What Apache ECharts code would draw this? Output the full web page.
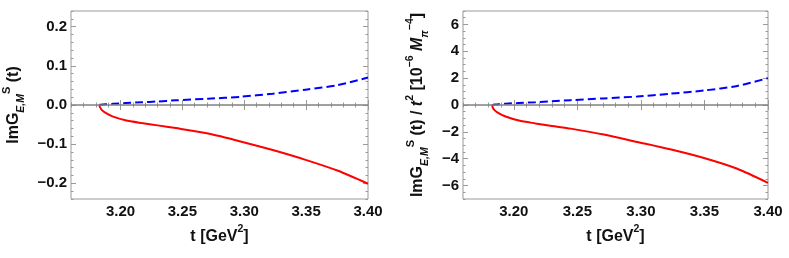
<!DOCTYPE html>
<html>
<head>
<meta charset="utf-8">
<script src="https://cdn.jsdelivr.net/npm/echarts@6/dist/echarts.min.js"></script>
<style>
html,body{margin:0;padding:0;background:#fff;}
#c{width:789px;height:258px;}
</style>
</head>
<body>
<div id="c"></div>
<script>
// ---- data ----
const tValues   = [3.1828, 3.1835, 3.185, 3.188, 3.1935, 3.204, 3.217, 3.230, 3.2447, 3.2708, 3.297, 3.323, 3.3496, 3.3758, 3.40];
const leftRed   = [0, -0.006, -0.013, -0.020, -0.029, -0.039, -0.046, -0.052, -0.059, -0.073, -0.093, -0.115, -0.140, -0.168, -0.201];
const leftBlue  = [0, 0.0005, 0.001, 0.002, 0.003, 0.005, 0.007, 0.009, 0.012, 0.016, 0.021, 0.029, 0.039, 0.051, 0.070];
const rightRed  = [0, -0.20, -0.40, -0.60, -0.86, -1.16, -1.37, -1.56, -1.76, -2.20, -2.75, -3.30, -3.95, -4.75, -5.80];
const rightBlue = [0, 0.01, 0.03, 0.06, 0.10, 0.15, 0.21, 0.28, 0.36, 0.49, 0.63, 0.84, 1.08, 1.42, 2.00];

const xTicks      = [3.20, 3.25, 3.30, 3.35, 3.40];
const leftYTicks  = [-0.2, -0.1, 0.0, 0.1, 0.2];
const rightYTicks = [-6, -4, -2, 0, 2, 4, 6];

const xRange = [3.16, 3.40];
const leftYRange = [-0.24, 0.24];
const rightYRange = [-7, 7];

// ---- helpers ----
function steps(a, b, s) { const out = []; const n = Math.round((b - a) / s); for (let i = 0; i <= n; i++) out.push(+(a + i * s).toFixed(6)); return out; }
const xMinor = steps(3.16, 3.40, 0.01);
const leftYMinor = steps(-0.24, 0.24, 0.02);
const rightYMinor = steps(-7, 7, 0.5);

const frameColor = '#9a9a9a';
const FONT = 'Liberation Sans, Arial, sans-serif';
const minus = v => String(v).replace('-', '\u2212');

function pair(v) { return v.map((y, i) => [tValues[i], y]); }

const grids = [
  { left: 63, right: 421, top: 11, bottom: 59, show: true, borderColor: frameColor, borderWidth: 1, backgroundColor: '#fff' },
  { left: 463, right: 21, top: 11, bottom: 59, show: true, borderColor: frameColor, borderWidth: 1, backgroundColor: '#fff' }
];

const richBase = {
  m:   { fontFamily: FONT, fontSize: 16, fontWeight: 'bold', color: '#111', lineHeight: 26, verticalAlign: 'middle' },
  it:  { fontFamily: FONT, fontSize: 16, fontWeight: 'bold', fontStyle: 'italic', color: '#111', lineHeight: 26, verticalAlign: 'middle' },
  sub: { fontFamily: FONT, fontSize: 10.5, fontWeight: 'bold', fontStyle: 'italic', color: '#111', lineHeight: 12, verticalAlign: 'bottom' },
  sup: { fontFamily: FONT, fontSize: 11, fontWeight: 'bold', color: '#111', lineHeight: 12, verticalAlign: 'top' },
  sup2:{ fontFamily: FONT, fontSize: 10.5, fontWeight: 'bold', color: '#111', lineHeight: 12, verticalAlign: 'top' }
};

const xName = '{m|t [GeV}{sup2|2}{m|]}';

const xAxes = [], yAxes = [];
[0, 1].forEach(g => {
  xAxes.push({
    gridIndex: g, type: 'value', min: xRange[0], max: xRange[1], position: 'bottom',
    axisLine: { show: false }, splitLine: { show: false },
    axisTick: { show: true, inside: true, length: 5, customValues: xTicks, lineStyle: { color: frameColor } },
    axisLabel: { customValues: xTicks, formatter: v => v.toFixed(2), fontFamily: FONT, fontSize: 15, fontWeight: 'bold', color: '#111', margin: 5 },
    name: xName, nameLocation: 'middle', nameGap: 20,
    nameTextStyle: { fontFamily: FONT, fontSize: 16, fontWeight: 'bold', color: '#111', rich: richBase }
  });
  xAxes.push({
    gridIndex: g, type: 'value', min: xRange[0], max: xRange[1], position: 'bottom',
    axisLine: { show: false }, splitLine: { show: false }, axisLabel: { show: false },
    axisTick: { show: true, inside: true, length: 2.5, customValues: xMinor, lineStyle: { color: frameColor } }
  });
  xAxes.push({
    gridIndex: g, type: 'value', min: xRange[0], max: xRange[1], position: 'top',
    axisLine: { show: false }, splitLine: { show: false }, axisLabel: { show: false },
    axisTick: { show: true, inside: true, length: 5, customValues: xTicks, lineStyle: { color: frameColor } }
  });
  xAxes.push({
    gridIndex: g, type: 'value', min: xRange[0], max: xRange[1], position: 'top',
    axisLine: { show: false }, splitLine: { show: false }, axisLabel: { show: false },
    axisTick: { show: true, inside: true, length: 2.5, customValues: xMinor, lineStyle: { color: frameColor } }
  });

  const yr = g === 0 ? leftYRange : rightYRange;
  const yt = g === 0 ? leftYTicks : rightYTicks;
  const ym = g === 0 ? leftYMinor : rightYMinor;
  const fmt = g === 0 ? (v => minus(v.toFixed(1))) : (v => minus(String(v)));
  const yName = g === 0
    ? '{m|ImG}{sub|E,M}{sup|S}{m| (t)}'
    : '{m|ImG}{sub|E,M}{sup|S}{m| (t) / }{it|t}{sup2|2}{m| [10}{sup2|\u22126}{m| }{it|M}{sub|\u03c0}{sup2|\u22124}{m|]}';
  yAxes.push({
    gridIndex: g, type: 'value', min: yr[0], max: yr[1], position: 'left',
    axisLine: { show: false }, splitLine: { show: false },
    axisTick: { show: true, inside: true, length: 5, customValues: yt, lineStyle: { color: frameColor } },
    axisLabel: { customValues: yt, formatter: fmt, fontFamily: FONT, fontSize: 15, fontWeight: 'bold', color: '#111', margin: 4 },
    name: yName, nameLocation: 'middle', nameRotate: 90, nameGap: g === 0 ? 44 : 32,
    nameTextStyle: { fontFamily: FONT, fontSize: 16, fontWeight: 'bold', color: '#111', rich: richBase }
  });
  yAxes.push({
    gridIndex: g, type: 'value', min: yr[0], max: yr[1], position: 'left',
    axisLine: { show: false }, splitLine: { show: false }, axisLabel: { show: false },
    axisTick: { show: true, inside: true, length: 2.5, customValues: ym, lineStyle: { color: frameColor } }
  });
  yAxes.push({
    gridIndex: g, type: 'value', min: yr[0], max: yr[1], position: 'right',
    axisLine: { show: false }, splitLine: { show: false }, axisLabel: { show: false },
    axisTick: { show: true, inside: true, length: 5, customValues: yt, lineStyle: { color: frameColor } }
  });
  yAxes.push({
    gridIndex: g, type: 'value', min: yr[0], max: yr[1], position: 'right',
    axisLine: { show: false }, splitLine: { show: false }, axisLabel: { show: false },
    axisTick: { show: true, inside: true, length: 2.5, customValues: ym, lineStyle: { color: frameColor } }
  });
});

function zeroLine() {
  return { silent: true, symbol: 'none', label: { show: false },
    lineStyle: { color: '#808080', width: 1.5, type: 'solid' }, data: [{ yAxis: 0 }] };
}

const series = [
  { type: 'line', xAxisIndex: 0, yAxisIndex: 0, data: pair(leftBlue), showSymbol: false, smooth: 0.25,
    lineStyle: { color: '#0000ff', width: 2, type: [8, 4] }, markLine: zeroLine(), z: 3 },
  { type: 'line', xAxisIndex: 0, yAxisIndex: 0, data: pair(leftRed), showSymbol: false, smooth: 0.25,
    lineStyle: { color: '#ff0000', width: 2 }, z: 3 },
  { type: 'line', xAxisIndex: 4, yAxisIndex: 4, data: pair(rightBlue), showSymbol: false, smooth: 0.25,
    lineStyle: { color: '#0000ff', width: 2, type: [8, 4] }, markLine: zeroLine(), z: 3 },
  { type: 'line', xAxisIndex: 4, yAxisIndex: 4, data: pair(rightRed), showSymbol: false, smooth: 0.25,
    lineStyle: { color: '#ff0000', width: 2 }, z: 3 }
];

const chart = echarts.init(document.getElementById('c'), null, { renderer: 'canvas' });
chart.setOption({
  backgroundColor: '#fff',
  animation: false,
  grid: grids,
  xAxis: xAxes,
  yAxis: yAxes,
  series: series
});
</script>
</body>
</html>
